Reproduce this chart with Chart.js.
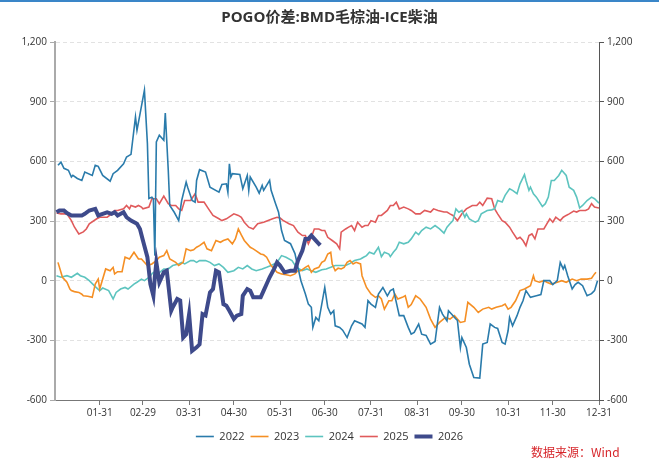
<!DOCTYPE html>
<html>
<head>
<meta charset="utf-8">
<script src="https://cdn.jsdelivr.net/npm/chart.js@4/dist/chart.umd.min.js"></script>
<style>
  body { margin: 0; background: #fff; }
  #wrap { position: relative; width: 659px; height: 465px; }
  #topbar { position: absolute; left: 0; top: 0; width: 659px; height: 2px; background: #3a86c8; }
  #src { position: absolute; left: 531px; top: 443px; font: 12px "Noto Sans CJK SC", sans-serif; color: #d7262b; }
</style>
</head>
<body>
<div id="wrap">
  <canvas id="c" width="659" height="465"></canvas>
  <div id="topbar"></div>
  <div id="src">数据来源：Wind</div>
</div>
<script>
// x = day of year (0 = 01-01), y = spread value
const monthEnds = [30, 59, 90, 120, 151, 181, 212, 243, 273, 304, 334, 365];
const monthLabels = ["01-31", "02-29", "03-31", "04-30", "05-31", "06-30", "07-31", "08-31", "09-30", "10-31", "11-30", "12-31"];

const days2022 = [2,4,6,9,11,12,15,18,20,25,27,29,32,37,39,42,46,48,51,54,55,60,62,63,65,66,67,68,70,73,74,76,77,80,83,85,88,89,92,94,95,97,101,104,110,112,115,116,117,118,119,124,126,129,130,131,135,137,139,140,144,145,148,150,152,154,158,161,163,165,168,170,172,173,175,177,181,183,185,187,188,191,193,196,199,201,206,208,210,212,215,217,220,223,225,227,229,231,234,237,239,241,244,246,249,252,255,258,260,263,264,266,269,270,272,273,276,278,281,285,287,290,292,295,297,300,302,304,305,307,310,312,314,316,319,323,326,328,332,334,337,339,341,342,344,347,349,351,354,357,360,362,364];
const vals2022 = [580,596,565,555,521,530,514,504,546,529,580,575,529,500,538,555,588,622,635,823,756,958,690,413,420,410,126,697,731,706,843,555,378,344,302,403,496,470,403,395,504,558,546,470,445,484,487,445,588,521,538,534,462,529,454,521,470,440,479,454,504,454,387,344,252,202,186,136,67,0,-67,-118,-134,-235,-185,-202,-34,-134,-168,-151,-227,-235,-249,-286,-227,-202,-218,-235,-101,-118,-134,-67,-34,-76,-50,-42,-109,-176,-176,-235,-269,-260,-218,-269,-275,-319,-306,-134,-168,-202,-151,-168,-193,-200,-336,-286,-336,-420,-487,-490,-319,-311,-218,-235,-240,-311,-319,-252,-185,-227,-176,-134,-101,-50,-84,-76,-70,0,0,-20,0,92,59,76,25,-42,-20,-8,-25,-76,-65,-50,0];

const days2023 = [2,5,8,10,11,13,16,18,19,22,25,27,29,30,34,37,39,40,42,45,47,50,53,56,58,62,65,68,70,73,75,77,81,83,86,88,91,93,95,97,100,102,105,108,111,113,116,119,121,123,125,127,131,133,135,138,140,142,145,149,152,155,158,161,163,165,168,170,172,174,177,179,181,183,185,186,188,190,192,194,196,198,200,202,205,206,209,212,215,217,219,221,224,226,228,230,233,235,237,239,242,245,249,252,255,258,262,265,268,272,275,277,281,284,287,291,293,296,300,302,304,306,309,312,315,319,321,322,325,328,330,333,337,340,343,347,350,353,357,360,362,363];
const vals2023 = [92,17,-8,-42,-50,-55,-59,-68,-76,-78,-84,-17,8,-42,59,50,67,34,45,45,118,109,143,109,109,76,84,101,118,126,151,109,92,76,92,160,151,155,168,176,193,160,151,202,193,202,210,185,210,260,230,202,168,160,150,134,130,118,76,42,34,30,25,34,50,50,67,76,42,59,67,92,101,134,143,84,50,63,59,67,92,101,84,92,84,25,-34,-67,-84,-76,-92,-143,-101,-101,-67,-92,-84,-76,-134,-120,-76,-92,-134,-193,-235,-210,-185,-193,-176,-210,-205,-109,-134,-160,-143,-134,-143,-134,-126,-118,-143,-134,-101,-50,-42,-25,25,0,-8,0,-8,-17,-8,0,-8,8,0,8,8,12,34,42];

const days2024 = [1,4,8,11,15,17,20,23,27,30,32,36,39,41,44,47,49,53,55,58,60,63,66,69,73,76,79,83,85,87,91,93,95,97,101,104,107,110,113,116,120,123,126,129,132,135,139,142,145,149,152,155,159,162,166,169,172,175,179,182,185,188,191,195,198,201,205,207,209,211,214,217,219,221,224,225,227,229,231,234,237,239,242,244,246,249,252,255,258,261,263,265,267,269,271,273,275,276,278,280,282,284,286,290,293,295,297,300,302,305,307,310,312,315,316,318,319,321,323,327,329,331,333,335,338,340,343,345,348,350,352,354,357,360,362,365];
const vals2024 = [25,17,25,17,37,25,17,0,-30,-50,-37,-50,-92,-59,-42,-34,-42,-17,-8,8,0,17,42,34,59,59,76,84,92,84,101,101,92,101,101,92,76,84,67,42,50,67,59,76,59,50,59,67,76,92,126,118,101,67,50,59,50,42,55,59,67,76,76,76,87,101,109,118,126,143,134,168,121,143,134,121,143,160,193,185,193,210,244,232,252,269,260,277,260,239,269,286,302,361,344,353,319,336,311,302,294,302,336,353,356,361,403,395,429,462,454,437,487,533,504,454,470,437,420,373,387,420,504,504,529,555,529,470,454,420,366,378,403,420,412,390];

const days2025 = [1,4,8,11,13,16,19,21,23,28,30,35,38,40,42,46,48,50,51,54,56,58,59,63,65,68,70,73,76,78,81,83,85,87,91,94,96,100,103,106,110,112,115,120,123,125,127,130,133,136,140,143,146,149,151,153,157,160,163,166,168,170,172,174,177,179,181,183,186,189,191,192,195,197,199,201,203,206,208,210,212,215,217,219,223,225,227,229,231,234,237,239,242,245,248,252,254,257,261,263,265,267,270,273,276,280,283,285,287,290,293,295,297,300,302,305,307,310,312,314,316,318,320,322,324,328,330,332,334,336,339,341,343,345,348,350,352,356,358,360,362,365];
const vals2025 = [340,336,336,302,270,235,245,260,286,311,319,319,336,353,353,361,378,361,378,370,378,370,361,370,412,412,387,425,387,378,378,361,353,403,403,437,395,395,361,328,311,302,311,336,328,319,294,269,260,286,294,303,311,319,315,303,286,277,244,227,227,185,218,260,260,252,252,218,202,185,160,244,260,269,277,252,294,269,277,277,302,294,328,328,353,378,378,395,361,370,361,353,336,336,353,345,361,353,345,345,336,328,302,336,361,378,378,395,378,415,412,361,336,302,294,269,244,210,218,202,176,227,235,210,260,260,286,311,294,319,302,319,328,336,350,345,353,353,361,387,370,365];

const days2026 = [1,3,6,8,11,15,18,20,23,27,29,32,35,38,40,42,46,48,51,55,57,59,62,64,66,67,68,70,73,75,78,79,82,84,86,88,90,92,95,97,99,101,104,106,108,110,113,115,117,120,122,125,126,129,131,133,135,138,140,142,144,147,149,151,154,158,161,163,166,168,170,172,174,177,178];
const vals2026 = [344,353,353,340,328,328,328,336,353,361,328,336,344,336,344,328,344,319,302,286,260,202,118,-17,-76,20,92,-8,42,50,-151,-134,-92,-100,-286,-270,-168,-353,-335,-320,-168,-175,-59,-42,50,42,-118,-126,-151,-193,-176,-168,-76,-42,-50,-84,-84,-84,-50,-17,17,59,92,76,42,50,50,101,151,210,210,227,210,185,193];

const FONT = '"Open Sans", "Noto Sans CJK SC", sans-serif';

function pts(days, vals) {
    return days.map((d, i) => ({ x: d, y: vals[i] }));
}

function line(label, days, vals, color, width, order) {
    return {
        label,
        data: pts(days, vals),
        borderColor: color,
        backgroundColor: color,
        borderWidth: width,
        pointRadius: 0,
        tension: 0,
        order,
    };
}

const datasets = [
    line("2022", days2022, vals2022, "#2a7bab", 1.6, 1),
    line("2023", days2023, vals2023, "#f58f24", 1.6, 2),
    line("2024", days2024, vals2024, "#5dc4bf", 1.6, 3),
    line("2025", days2025, vals2025, "#e05a5b", 1.6, 4),
    line("2026", days2026, vals2026, "#3e4a8b", 4, 0),
];

new Chart(document.getElementById("c"), {
    type: "line",
    data: { datasets },
    options: {
        responsive: false,
        animation: false,
        layout: { padding: { left: 0, right: 0, top: 0, bottom: 13 } },
        plugins: {
            title: {
                display: true,
                text: "POGO价差:BMD毛棕油-ICE柴油",
                color: "#333",
                font: { family: FONT, size: 15, weight: "bold" },
                padding: { top: 9, bottom: 15 },
            },
            legend: {
                position: "bottom",
                labels: {
                    usePointStyle: true,
                    pointStyle: "line",
                    pointStyleWidth: 18,
                    padding: 6,
                    color: "#333",
                    font: { family: FONT, size: 11 },
                    sort: (a, b) => a.datasetIndex - b.datasetIndex,
                },
            },
            tooltip: { enabled: false },
        },
        scales: {
            x: {
                type: "linear",
                min: 0,
                max: 365,
                afterBuildTicks: (s) => { s.ticks = monthEnds.map((v) => ({ value: v })); },
                afterFit: (s) => { s.height = 25; },
                ticks: {
                    autoSkip: false,
                    maxRotation: 0,
                    padding: 2,
                    color: "#333",
                    font: { family: FONT, size: 10 },
                    callback: (v) => monthLabels[monthEnds.indexOf(v)],
                },
                grid: { drawOnChartArea: false, tickLength: 5, tickColor: "#777" },
                border: { color: "#777" },
            },
            y: {
                position: "left",
                min: -600,
                max: 1200,
                afterFit: (s) => { s.width = 55; },
                ticks: {
                    stepSize: 300,
                    padding: 3,
                    color: "#333",
                    font: { family: FONT, size: 10 },
                    callback: (v) => v.toLocaleString("en-US"),
                },
                grid: { color: "#e2e2e2", tickLength: 5, tickColor: "#aaa", tickBorderDash: [] },
                border: { color: "#aaa", width: 2, dash: [4, 3] },
            },
            y1: {
                position: "right",
                min: -600,
                max: 1200,
                afterFit: (s) => { s.width = 60; },
                ticks: {
                    stepSize: 300,
                    padding: 3,
                    color: "#333",
                    font: { family: FONT, size: 10 },
                    callback: (v) => v.toLocaleString("en-US"),
                },
                grid: { drawOnChartArea: false, tickLength: 5, tickColor: "#555" },
                border: { color: "#555" },
            },
        },
    },
});
</script>
</body>
</html>
